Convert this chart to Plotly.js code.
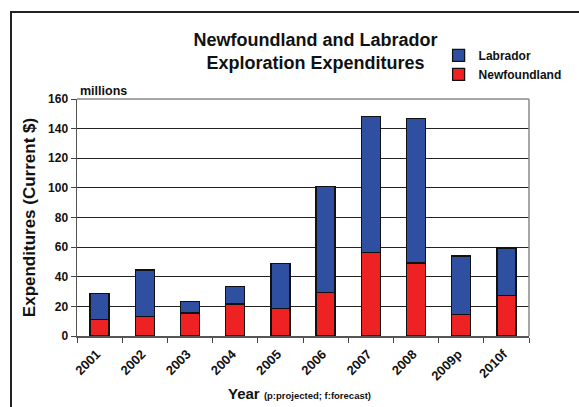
<!DOCTYPE html>
<html>
<head>
<meta charset="utf-8">
<script src="https://cdn.plot.ly/plotly-3.0.1.min.js"></script>
<style>
  html, body { margin: 0; padding: 0; background: #fff; }
  #wrap { position: relative; width: 579px; height: 407px; overflow: hidden; }
  #chart { position: absolute; left: 0; top: 0; width: 579px; height: 407px; }
  #frame { position: absolute; left: 10px; top: 11px; width: 620px; height: 394px;
           border-left: 2px solid #222; border-top: 2px solid #222; pointer-events: none; }
</style>
</head>
<body>
<div id="wrap">
  <div id="chart"></div>
  <div id="frame"></div>
</div>
<script>
// Exploration expenditures, millions of current dollars
const years = ['2001', '2002', '2003', '2004', '2005', '2006', '2007', '2008', '2009p', '2010f'];
const newfoundland = [11.3, 13.1, 15.6, 21.7, 18.7, 29.3, 56.4, 49.2, 14.5, 27.3];
const labrador = [17.5, 31.4, 7.8, 11.8, 30.1, 71.7, 92.0, 97.6, 39.5, 32.1];
const yTicks = [0, 20, 40, 60, 80, 100, 120, 140, 160];

const FONT = 'Arial, "Liberation Sans", sans-serif';

const barLine = { color: '#111', width: 1.3 };

const traces = [
  {
    type: 'bar', name: 'Newfoundland', x: years, y: newfoundland,
    marker: { color: '#ee2222', line: barLine }
  },
  {
    type: 'bar', name: 'Labrador', x: years, y: labrador,
    marker: { color: '#2f4fa0', line: barLine }
  }
];

const layout = {
  width: 579, height: 407,
  margin: { l: 77, r: 18, t: 99, b: 70.5 },
  paper_bgcolor: '#fff', plot_bgcolor: '#fff',
  barmode: 'stack', bargap: 0.58,
  font: { family: FONT, color: '#111' },
  showlegend: true,
  legend: {
    x: 0.80, xanchor: 'left', y: 1.245, yanchor: 'top',
    traceorder: 'reversed',
    font: { family: FONT, size: 12, color: '#111', weight: 'bold' },
    itemwidth: 30, tracegroupgap: 0, bgcolor: 'rgba(0,0,0,0)'
  },
  title: {
    text: '<b>Newfoundland and Labrador<br>Exploration Expenditures</b>',
    font: { family: FONT, size: 18, color: '#111' },
    x: 0.545, xref: 'container', xanchor: 'center',
    y: 0.888, yref: 'container', yanchor: 'top'
  },
  xaxis: {
    type: 'category', tickson: 'boundaries',
    ticks: 'outside', ticklen: 5, tickcolor: '#444',
    showline: true, linecolor: '#555', linewidth: 1.5, mirror: false,
    tickangle: -45, ticklabelstandoff: 4, ticklabelshift: -3,
    tickfont: { family: FONT, size: 13, color: '#111', weight: 'bold' },
    showgrid: false
  },
  yaxis: {
    range: [0, 160], tickvals: yTicks, ticktext: yTicks.map(String),
    ticks: 'outside', ticklen: 5, tickcolor: '#444',
    showline: true, linecolor: '#555', linewidth: 1.5,
    showgrid: true, gridcolor: '#222', gridwidth: 1,
    zeroline: false,
    tickfont: { family: FONT, size: 12, color: '#111', weight: 'bold' },
    title: {
      text: '<b>Expenditures (Current $)</b>',
      font: { family: FONT, size: 17, color: '#111' },
      standoff: 8
    }
  },
  shapes: [
    // light frame on the top and right of the plotting area
    { type: 'line', xref: 'paper', yref: 'paper', x0: 0, x1: 1, y0: 1, y1: 1,
      line: { color: '#888', width: 1.5 } },
    { type: 'line', xref: 'paper', yref: 'paper', x0: 1, x1: 1, y0: 0, y1: 1,
      line: { color: '#888', width: 1.5 } }
  ],
  annotations: [
    { text: '<b>millions</b>', xref: 'paper', yref: 'paper', x: 0.003, y: 0.995,
      xanchor: 'left', yanchor: 'bottom', showarrow: false,
      font: { family: FONT, size: 12.5, color: '#111' } },
    { text: '<b>Year</b> <b><span style="font-size:9.5px">(p:projected; f:forecast)</span></b>',
      xref: 'paper', yref: 'paper', x: 0.33, y: -0.2,
      xanchor: 'left', yanchor: 'top', showarrow: false,
      font: { family: FONT, size: 15, color: '#111' } }
  ]
};

Plotly.newPlot('chart', traces, layout, { displayModeBar: false, staticPlot: true });
</script>
</body>
</html>
